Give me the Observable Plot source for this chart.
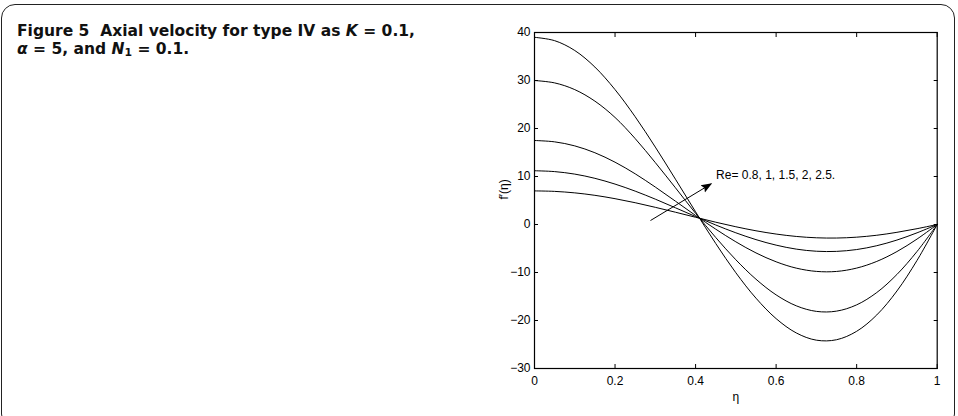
<!DOCTYPE html>
<html>
<head>
<meta charset="utf-8">
<script src="https://cdn.jsdelivr.net/npm/d3@7"></script>
<script src="https://cdn.jsdelivr.net/npm/@observablehq/plot@0.6"></script>
<style>
  html, body { margin: 0; padding: 0; background: #fff; }
  #page { position: relative; width: 958px; height: 416px; overflow: hidden; background: #fff; }
  #frame { position: absolute; left: 1px; top: 4px; width: 954px; height: 424px; box-sizing: border-box;
           border: 1.4px solid #222; border-radius: 14px; }
  .cap { position: absolute; left: 17px; font-family: "DejaVu Sans", "Open Sans", sans-serif; font-weight: 700;
         font-size: 15px; line-height: 18px; color: #111; white-space: nowrap; }
  #cap1 { top: 22px; }
  #cap2 { top: 40px; }
  #chart { position: absolute; left: 470px; top: 0px; }
</style>
</head>
<body>
<div id="page">
  <div id="frame"></div>
  <div class="cap" id="cap1">Figure 5&nbsp;&nbsp;Axial velocity for type IV as <i>K</i> = 0.1,</div>
  <div class="cap" id="cap2"><i>α</i> = 5, and <i>N</i><sub style="font-size:0.7em;vertical-align:-0.2em">1</sub> = 0.1.</div>
  <div id="chart"></div>
</div>
<script>
// η sample positions
const eta = [0, 0.05, 0.1, 0.15, 0.2, 0.25, 0.3, 0.35, 0.4, 0.45, 0.5, 0.55, 0.6, 0.65, 0.7, 0.75, 0.8, 0.85, 0.9, 0.95, 1];
// Reynolds numbers (series)
const reValues = ["0.8", "1", "1.5", "2", "2.5"];
// f'(η) for each Re
const fRe08 = [7, 6.90, 6.59, 6.08, 5.38, 4.54, 3.58, 2.56, 1.51, 0.48, -0.47, -1.31, -1.99, -2.49, -2.77, -2.82, -2.64, -2.24, -1.63, -0.87, 0];
const fRe1  = [11.2, 11.02, 10.50, 9.62, 8.42, 6.95, 5.28, 3.48, 1.66, -0.10, -1.73, -3.15, -4.30, -5.13, -5.57, -5.60, -5.22, -4.42, -3.24, -1.73, 0];
const fRe15 = [17.5, 17.22, 16.38, 14.95, 12.98, 10.56, 7.80, 4.86, 1.88, -0.97, -3.61, -5.92, -7.77, -9.09, -9.77, -9.78, -9.08, -7.69, -5.64, -3.03, 0];
const fRe2  = [30, 29.50, 28.10, 25.70, 22.30, 17.90, 12.90, 7.65, 2.33, -2.70, -7.35, -11.40, -14.66, -16.94, -18.10, -18.05, -16.74, -14.17, -10.41, -5.61, 0];
const fRe25 = [39, 38.30, 36.25, 32.80, 28.10, 22.45, 16.13, 9.44, 2.64, -3.95, -10.05, -15.35, -19.61, -22.59, -24.10, -24.01, -22.25, -18.84, -13.85, -7.47, 0];
const seriesValues = [fRe08, fRe1, fRe15, fRe2, fRe25];
// axis ticks and labels
const xTicks = [0, 0.2, 0.4, 0.6, 0.8, 1];
const yTicks = [-30, -20, -10, 0, 10, 20, 30, 40];
const xLabel = ["η"];
const yLabel = ["f′(η)"];
// annotation
const annText = ["Re= 0.8, 1, 1.5, 2, 2.5."];
const annTextPos = [{x: 0.451, y: 10.35}];
const arrowFrom = [{x: 0.288, y: 0.83}];
const arrowTo = [{x: 0.439, y: 8.48}];

const rows = [];
seriesValues.forEach((vals, s) => {
  vals.forEach((v, i) => rows.push({eta: eta[i], f: v, re: reValues[s]}));
});
const arrowRows = arrowFrom.map((a, i) => ({x1: a.x, y1: a.y, x2: arrowTo[i].x, y2: arrowTo[i].y}));

const FS = 12;
const chart = Plot.plot({
  width: 488,
  height: 416,
  marginLeft: 64,
  marginRight: 21.3,
  marginTop: 32,
  marginBottom: 48,
  x: {domain: [0, 1]},
  y: {domain: [-30, 40]},
  style: {fontFamily: "'Liberation Sans', Arial, sans-serif", fontSize: "12px", color: "#000", background: "transparent", overflow: "visible"},
  marks: [
    Plot.line(rows, {x: "eta", y: "f", z: "re", stroke: "#000", strokeWidth: 1, curve: "catmull-rom"}),
    Plot.axisX(xTicks, {anchor: "bottom", tickSize: -4, tickPadding: 12, label: null, fontSize: FS, tickFormat: d => String(d)}),
    Plot.axisX(xTicks, {anchor: "top", tickSize: -4, tickFormat: () => "", label: null}),
    Plot.axisY(yTicks, {anchor: "left", tickSize: -4, tickPadding: 8, label: null, fontSize: FS, tickFormat: d => d < 0 ? "\u2212" + Math.abs(d) : String(d)}),
    Plot.axisY(yTicks, {anchor: "right", tickSize: -4, tickFormat: () => "", label: null}),
    Plot.frame({stroke: "#000", strokeWidth: 1.2}),
    Plot.text(xLabel, {text: d => d, frameAnchor: "bottom", dy: 29, lineAnchor: "middle", fontSize: FS}),
    Plot.text(yLabel, {text: d => d, frameAnchor: "left", rotate: -90, dx: -30, dy: -1, lineAnchor: "middle", fontSize: FS}),
    Plot.link(arrowRows, {x1: "x1", y1: "y1", x2: "x2", y2: "y2", stroke: "#000", strokeWidth: 1, markerEnd: "arrow"}),
    Plot.text(annText, {x: () => annTextPos[0].x, y: () => annTextPos[0].y, text: d => d, textAnchor: "start", lineAnchor: "middle", fontSize: FS})
  ]
});
// filled arrowhead instead of the open chevron
chart.querySelectorAll("marker").forEach(m => {
  m.setAttribute("fill", "#000");
  m.setAttribute("stroke", "none");
  m.setAttribute("markerUnits", "userSpaceOnUse");
  m.setAttribute("markerWidth", "12");
  m.setAttribute("markerHeight", "12");
  m.setAttribute("viewBox", "-10 -6 12 12");
  m.setAttribute("refX", "0");
  m.setAttribute("refY", "0");
  const p = m.querySelector("path");
  if (p) p.setAttribute("d", "M-10,-4.2L1,0L-10,4.2L-8,0Z");
});
document.getElementById("chart").appendChild(chart);

// fit caption font size so line 1 matches the reference width
(function () {
  const c1 = document.getElementById("cap1");
  const c2 = document.getElementById("cap2");
  const w = c1.getBoundingClientRect().width;
  const fs = 15 * 398 / w;
  c1.style.fontSize = fs + "px";
  c2.style.fontSize = fs + "px";
})();
</script>
</body>
</html>
